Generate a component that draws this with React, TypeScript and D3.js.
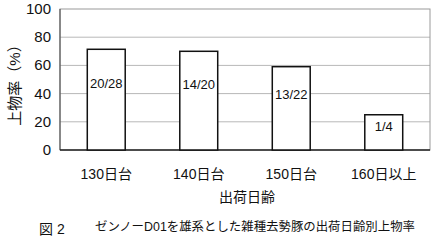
import React from "react";
import * as d3 from "d3";

const categories = ["130日台", "140日台", "150日台", "160日以上"];
const graded = [20, 14, 13, 1];
const shipped = [28, 20, 22, 4];
const yTicks = [0, 20, 40, 60, 80, 100];

const W = 437;
const H = 242;
const margin = { left: 60, right: 7, top: 9, bottom: 92 };

export default function App() {
  const x = d3
    .scaleBand<string>()
    .domain(categories)
    .range([margin.left, W - margin.right])
    .paddingInner(0.59)
    .paddingOuter(0.295);
  const y = d3.scaleLinear().domain([0, 100]).range([H - margin.bottom, margin.top]);
  const rates = graded.map((g, i) => (g / shipped[i]) * 100);
  const font = "'Liberation Sans', 'Noto Sans CJK JP', sans-serif";
  const x0 = margin.left;
  const x1 = W - margin.right;

  return (
    <svg
      width={W}
      height={H}
      style={{ position: "absolute", left: 0, top: 0, background: "#fff" }}
      fontFamily={font}
    >
      {/* gridlines */}
      {yTicks.slice(1, -1).map((t) => (
        <line key={t} x1={x0} x2={x1} y1={y(t)} y2={y(t)} stroke="#b8b8b8" strokeWidth={1} />
      ))}
      {/* plot frame */}
      <rect
        x={x0}
        y={y(100)}
        width={x1 - x0}
        height={y(0) - y(100)}
        fill="none"
        stroke="#9a9a9a"
        strokeWidth={1}
      />
      <line x1={x0} x2={x0} y1={y(100)} y2={y(0)} stroke="#444" strokeWidth={1} />
      <line x1={x0} x2={x1} y1={y(0)} y2={y(0)} stroke="#222" strokeWidth={1.5} />
      {/* bars */}
      {categories.map((c, i) => (
        <g key={c}>
          <rect
            x={x(c)}
            y={y(rates[i])}
            width={x.bandwidth()}
            height={y(0) - y(rates[i])}
            fill="#fff"
            stroke="#111"
            strokeWidth={1.5}
          />
          <text
            x={(x(c) as number) + x.bandwidth() / 2}
            y={y(rates[i] * 0.65)}
            textAnchor="middle"
            dominantBaseline="middle"
            fontSize={13}
            fill="#111"
          >
            {`${graded[i]}/${shipped[i]}`}
          </text>
        </g>
      ))}
      {/* y ticks */}
      {yTicks.map((t) => (
        <text
          key={t}
          x={x0 - 9}
          y={y(t) + 1}
          textAnchor="end"
          dominantBaseline="middle"
          fontSize={15}
          fill="#111"
        >
          {t}
        </text>
      ))}
      {/* x ticks */}
      {categories.map((c) => (
        <text
          key={c}
          x={(x(c) as number) + x.bandwidth() / 2}
          y={175}
          textAnchor="middle"
          dominantBaseline="middle"
          fontSize={14}
          fill="#111"
        >
          {c}
        </text>
      ))}
      <text x={247} y={198} textAnchor="middle" dominantBaseline="middle" fontSize={14} fill="#111">
        出荷日齢
      </text>
      <text
        transform={`translate(16,${(y(0) + y(100)) / 2 + 2}) rotate(-90)`}
        textAnchor="middle"
        dominantBaseline="middle"
        fontSize={15}
        fill="#111"
      >
        上物率（%）
      </text>
      {/* caption */}
      <text x={39} y={230} dominantBaseline="middle" fontSize={14} fill="#111">
        図 2
      </text>
      <text
        x={95}
        y={228}
        dominantBaseline="middle"
        fontSize={12}
        textLength={320}
        lengthAdjust="spacingAndGlyphs"
        fill="#111"
      >
        ゼンノーD01を雄系とした雑種去勢豚の出荷日齢別上物率
      </text>
    </svg>
  );
}
